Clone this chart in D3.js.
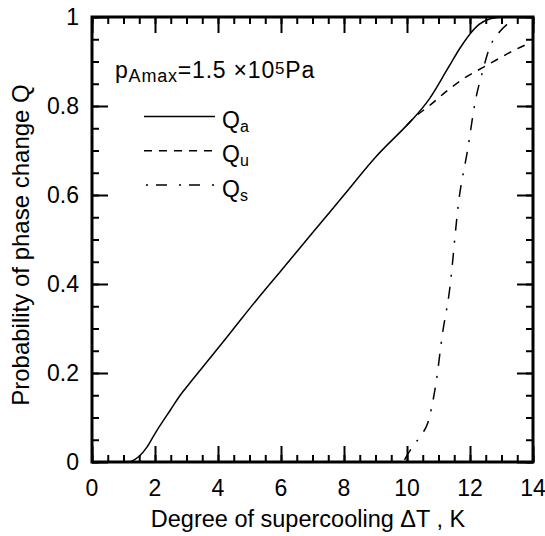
<!DOCTYPE html>
<html>
<head>
<meta charset="utf-8">
<script src="https://cdn.jsdelivr.net/npm/d3@7"></script>
<style>
  body { margin: 0; background: #fff; }
  text { font-family: 'Liberation Sans', Arial, sans-serif; fill: #000; }
</style>
</head>
<body>
<div class="chart"></div>
<script>
const WIDTH = 545;
const HEIGHT = 536;
const MARGIN = { top: 17, right: 12, bottom: 74, left: 92 };

// data
const qaTemp = [1.2, 1.5, 1.75, 2.0, 2.5, 2.8, 3.1, 3.8, 4.5, 5.2, 6, 7, 8, 9, 10, 10.2, 10.7, 11.3, 11.7, 12.0, 12.3, 12.6, 13.0];
const qaProb = [0, 0.013, 0.034, 0.064, 0.118, 0.150, 0.177, 0.238, 0.30, 0.362, 0.43, 0.515, 0.60, 0.685, 0.757, 0.772, 0.815, 0.885, 0.932, 0.962, 0.984, 0.995, 1.0];
const quTemp = [10.0, 10.2, 10.7, 11.2, 11.76, 12.5, 13.0, 13.45, 13.75];
const quProb = [0.757, 0.772, 0.80, 0.83, 0.86, 0.89, 0.91, 0.927, 0.937];
const qsTemp = [9.92, 10.18, 10.49, 10.65, 10.92, 11.13, 11.34, 11.65, 11.92, 12.18, 12.39, 12.6, 12.92, 13.2];
const qsProb = [0.005, 0.035, 0.064, 0.086, 0.177, 0.29, 0.38, 0.59, 0.70, 0.815, 0.875, 0.927, 0.965, 0.985];
const xTicks = [0, 2, 4, 6, 8, 10, 12, 14];
const yTicks = [0, 0.2, 0.4, 0.6, 0.8, 1];
const yTickLabels = ['0', '0.2', '0.4', '0.6', '0.8', '1'];
const seriesNames = ['a', 'u', 's'];

const svg = d3.select('.chart').append('svg')
  .attr('width', WIDTH)
  .attr('height', HEIGHT);

const x = d3.scaleLinear().domain([0, 14]).range([MARGIN.left, WIDTH - MARGIN.right]);
const y = d3.scaleLinear().domain([0, 1]).range([HEIGHT - MARGIN.bottom, MARGIN.top]);

const minorX = d3.range(0, 14.01, 0.5);
const minorY = d3.range(0, 1.001, 0.05);

// inward ticks on all four sides
function tickAxis(axis, pos, values, size) {
  const g = svg.append('g').attr('transform', pos)
    .call(axis.tickValues(values).tickSizeInner(-size).tickSizeOuter(0).tickFormat(''));
  g.select('.domain').remove();
  g.selectAll('line').attr('stroke', '#000').attr('stroke-width', 2);
  return g;
}
const yBottom = y(0);
const yTop = y(1);
tickAxis(d3.axisBottom(x), `translate(0,${yBottom})`, minorX, 7);
tickAxis(d3.axisBottom(x), `translate(0,${yBottom})`, xTicks, 16);
tickAxis(d3.axisTop(x), `translate(0,${yTop})`, minorX, 7);
tickAxis(d3.axisTop(x), `translate(0,${yTop})`, xTicks, 16);
tickAxis(d3.axisLeft(y), `translate(${x(0)},0)`, minorY, 7);
tickAxis(d3.axisLeft(y), `translate(${x(0)},0)`, yTicks, 16);
tickAxis(d3.axisRight(y), `translate(${x(14)},0)`, minorY, 7);
tickAxis(d3.axisRight(y), `translate(${x(14)},0)`, yTicks, 16);

// tick labels
svg.append('g').selectAll('text').data(xTicks).join('text')
  .attr('x', (d) => x(d))
  .attr('y', 496)
  .attr('text-anchor', 'middle')
  .style('font-size', '23px')
  .text((d) => d);

svg.append('g').selectAll('text').data(yTicks).join('text')
  .attr('x', x(0) - 13)
  .attr('y', (d) => y(d))
  .attr('dy', '0.36em')
  .attr('text-anchor', 'end')
  .style('font-size', '23px')
  .text((d, i) => yTickLabels[i]);

// frame
svg.append('rect')
  .attr('x', x(0))
  .attr('y', yTop)
  .attr('width', x(14) - x(0))
  .attr('height', yBottom - yTop)
  .attr('fill', 'none')
  .attr('stroke', '#000')
  .attr('stroke-width', 3);

// axis titles
svg.append('text')
  .attr('x', 308)
  .attr('y', 527)
  .attr('text-anchor', 'middle')
  .style('font-size', '23.5px')
  .text('Degree of supercooling ΔT , K');

svg.append('text')
  .attr('transform', 'translate(29,245) rotate(-90)')
  .attr('text-anchor', 'middle')
  .style('font-size', '24px')
  .text('Probability of phase change Q');

// curves
const line = d3.line()
  .x((d) => x(d[0]))
  .y((d) => y(d[1]))
  .curve(d3.curveMonotoneX);

const dashes = [null, '8,7', '12,10,2,10'];
const curves = [
  d3.zip(qaTemp, qaProb),
  d3.zip(quTemp, quProb),
  d3.zip(qsTemp, qsProb),
];

curves.forEach((pts, i) => {
  svg.append('path')
    .attr('d', line(pts))
    .attr('fill', 'none')
    .attr('stroke', '#000')
    .attr('stroke-width', 1.5)
    .attr('stroke-dasharray', dashes[i]);
});

// annotation
const note = svg.append('text')
  .attr('x', 115)
  .attr('y', 78)
  .style('font-size', '23px')
  .style('letter-spacing', '0.8px');
note.append('tspan').text('p');
note.append('tspan').attr('dy', 4).style('font-size', '18px').text('Amax');
note.append('tspan').attr('dy', -4).text('=1.5 ×10');
note.append('tspan').attr('dy', -4).style('font-size', '17px').text('5');
note.append('tspan').attr('dy', 4).text('Pa');

// legend
const legend = svg.append('g');
seriesNames.forEach((name, i) => {
  const ly = 116.5 + i * 34.3;
  legend.append('line')
    .attr('x1', 144)
    .attr('x2', 215)
    .attr('y1', ly)
    .attr('y2', ly)
    .attr('stroke', '#000')
    .attr('stroke-width', 1.5)
    .attr('stroke-dasharray', i === 2 ? '2,8,11,12' : dashes[i])
    .attr('stroke-dashoffset', i === 2 ? -2 : 0);
  const t = legend.append('text')
    .attr('x', 222)
    .attr('y', ly + 11.5)
    .style('font-size', '23px');
  t.append('tspan').text('Q');
  t.append('tspan').attr('dy', 4).style('font-size', '16px').text(name);
});
</script>
</body>
</html>
